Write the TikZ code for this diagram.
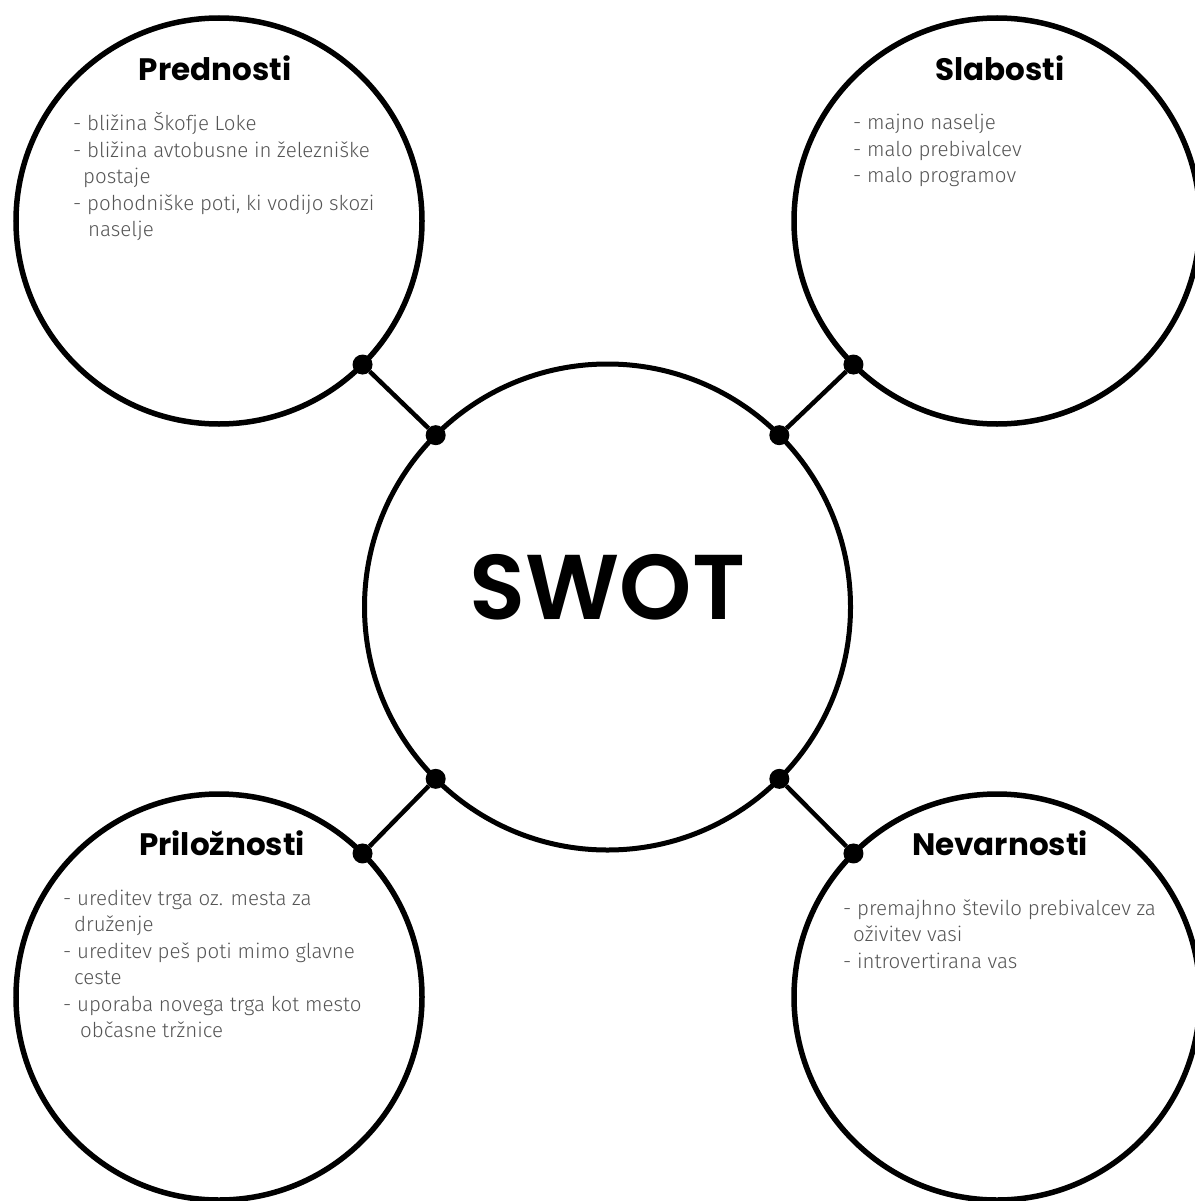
\documentclass[tikz,border=0pt]{standalone}
\usepackage{fontspec}
\setmainfont{Poppins}
\newfontfamily\semibold{Poppins SemiBold}
\newfontfamily\bodyfont{Fira Sans Light}
\definecolor{bodygray}{HTML}{555555}
\begin{document}
\begin{tikzpicture}[x=1pt,y=-1pt,
  sat/.style={circle, draw=black, line width=5.5pt, minimum size=406pt, inner sep=0pt, outer sep=0pt},
  hub/.style={circle, draw=black, line width=5pt, minimum size=486pt, inner sep=0pt, outer sep=0pt},
  dotnode/.style={circle, fill=black, minimum size=20pt, inner sep=0pt, outer sep=0pt},
  link/.style={line width=4.5pt},
  heading/.style={anchor=base, inner sep=0pt, font=\fontsize{31}{36}\selectfont\bfseries},
  items/.style={anchor=base west, inner sep=0pt, text=bodygray, font=\bodyfont\fontsize{20.5}{26.5}\selectfont}
]
\fill[white] (0,0) rectangle (1194,1201);
\useasboundingbox (0,0) rectangle (1194,1201);

\node[hub] (c) at (607.5,607) {};
\node[sat] (s) at (219,221) {};
\node[sat] (w) at (997,221) {};
\node[sat] (o) at (219,997) {};
\node[sat] (t) at (997,997) {};

\node[dotnode] (s1) at (s.-45) {};
\node[dotnode] (c1) at (c.135) {};
\node[dotnode] (w1) at (w.-135) {};
\node[dotnode] (c2) at (c.45) {};
\node[dotnode] (o1) at (o.45) {};
\node[dotnode] (c3) at (c.-135) {};
\node[dotnode] (t1) at (t.135) {};
\node[dotnode] (c4) at (c.-45) {};

\draw[link] (s1) -- (c1);
\draw[link] (w1) -- (c2);
\draw[link] (o1) -- (c3);
\draw[link] (t1) -- (c4);

\node[anchor=base, inner sep=0pt, font=\semibold\fontsize{92}{100}\selectfont] (swot) at (607.5,619) {SWOT};

\node[heading] (hs) at (215,81) {Prednosti};
\node[heading] (hw) at (1000,81) {Slabosti};
\node[heading] (ho) at (222,855) {Priložnosti};
\node[heading] (ht) at (1000,855) {Nevarnosti};

\node[items] (ls) at (73,131) {\parbox[t]{400pt}{- bližina Škofje Loke\\
- bližina avtobusne in železniške\\
\hspace*{10pt}postaje\\
- pohodniške poti, ki vodijo skozi\\
\hspace*{15pt}naselje}};

\node[items] (lw) at (853,130) {\parbox[t]{400pt}{- majno naselje\\
- malo prebivalcev\\
- malo programov}};

\node[items] (lo) at (63,905) {\parbox[t]{400pt}{- ureditev trga oz. mesta za\\
\hspace*{11pt}druženje\\
- ureditev peš poti mimo glavne\\
\hspace*{11pt}ceste\\
- uporaba novega trga kot mesto\\
\hspace*{17pt}občasne tržnice}};

\node[items] (lt) at (843,915) {\parbox[t]{400pt}{- premajhno število prebivalcev za\\
\hspace*{10pt}oživitev vasi\\
- introvertirana vas}};
\end{tikzpicture}
\end{document}
